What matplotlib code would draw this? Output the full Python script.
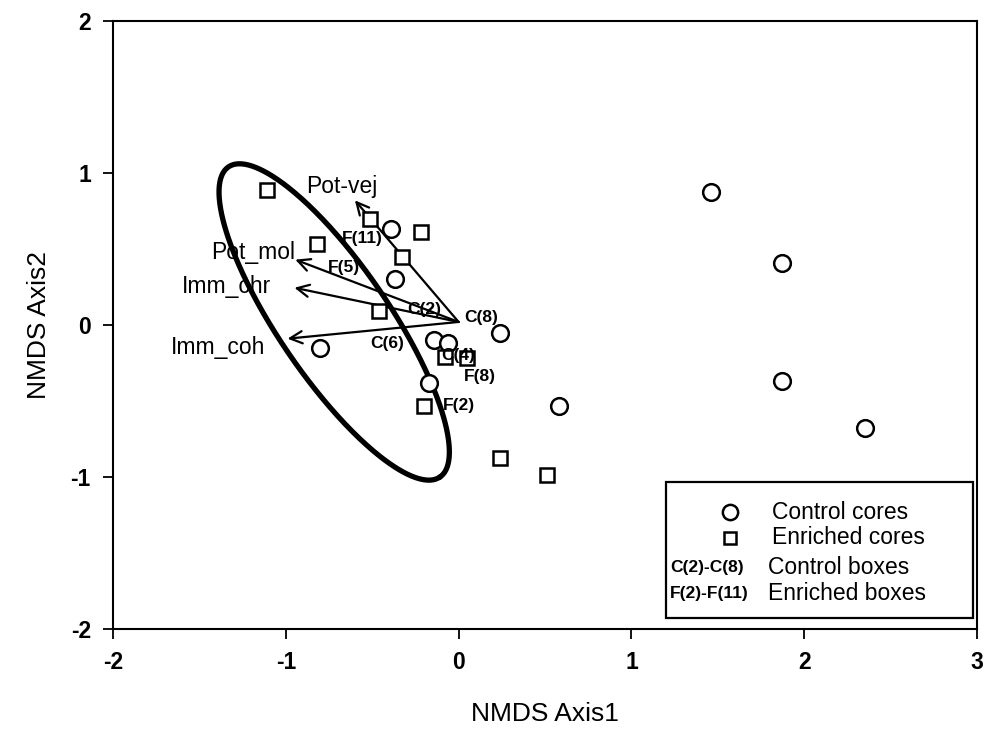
import numpy as np
import matplotlib
matplotlib.use('Agg')
from matplotlib import pyplot as plt

plt.rcParams['font.family'] = ['Liberation Sans', 'DejaVu Sans']
plt.rcParams['axes.unicode_minus'] = False

# NMDS site scores
control_x = [1.46, 1.87, 1.87, 2.35, 0.58, 0.24, -0.39, -0.37, -0.80, -0.14, -0.06, -0.17]
control_y = [0.875, 0.41, -0.37, -0.68, -0.53, -0.05, 0.63, 0.30, -0.15, -0.10, -0.12, -0.38]
enriched_x = [-1.11, -0.51, -0.22, -0.82, -0.33, -0.46, -0.08, 0.05, -0.20, 0.24, 0.51]
enriched_y = [0.89, 0.70, 0.61, 0.53, 0.45, 0.09, -0.21, -0.22, -0.53, -0.875, -0.99]

# box labels
box_names = ['F(11)', 'F(5)', 'C(2)', 'C(8)', 'C(6)', 'C(4)', 'F(8)', 'F(2)']
box_x = [-0.674, -0.755, -0.30, 0.03, -0.51, -0.10, 0.03, -0.09]
box_y = [0.566, 0.375, 0.10, 0.05, -0.12, -0.20, -0.34, -0.53]

# species vectors (joint plot), all from the same origin
vec_names = ['Pot-vej', 'Pot_mol', 'Imm_chr', 'Imm_coh']
vec_x = [-0.60, -0.945, -0.95, -0.99]
vec_y = [0.82, 0.43, 0.245, -0.09]
vec_origin = (0.0, 0.02)
vec_label_x = [-0.885, -1.43, -1.60, -1.665]
vec_label_y = [0.91, 0.48, 0.25, -0.145]

# confidence ellipse: centre + two semi-axis vectors (data units)
ell_centre = (-0.72, 0.02)
ell_major = (0.612, -1.020)
ell_minor = (0.264, 0.206)

fig = plt.figure(figsize=(9.86, 7.31), dpi=100)
ax = fig.add_axes([0.1146, 0.1395, 0.8763, 0.8318])

t = np.linspace(0, 2 * np.pi, 400)
ex = ell_centre[0] + ell_major[0] * np.cos(t) + ell_minor[0] * np.sin(t)
ey = ell_centre[1] + ell_major[1] * np.cos(t) + ell_minor[1] * np.sin(t)
ax.plot(ex, ey, color='black', lw=3.8, solid_capstyle='round', zorder=2)

ax.plot(control_x, control_y, 'o', ms=12, mfc='white', mec='black', mew=1.8, zorder=4)
ax.plot(enriched_x, enriched_y, 's', ms=10, mfc='white', mec='black', mew=1.8, zorder=4)

for name, x, y, lx, ly in zip(vec_names, vec_x, vec_y, vec_label_x, vec_label_y):
    ax.annotate('', xy=(x, y), xytext=vec_origin,
                arrowprops=dict(arrowstyle='->', color='black', lw=1.6,
                                mutation_scale=22, shrinkA=0, shrinkB=0), zorder=3)
    ax.text(lx, ly, name, fontsize=16.5, ha='left', va='center', zorder=5)

for name, x, y in zip(box_names, box_x, box_y):
    ax.text(x, y, name, fontsize=12.5, fontweight='bold', ha='left', va='center', zorder=5)

ax.set_xlim(-2, 3)
ax.set_ylim(-2, 2)
ax.set_xticks([-2, -1, 0, 1, 2, 3])
ax.set_yticks([-2, -1, 0, 1, 2])
ax.tick_params(direction='out', length=7, width=1.3, labelsize=16.5, pad=9)
for lab in ax.get_xticklabels() + ax.get_yticklabels():
    lab.set_fontweight('bold')
for s in ax.spines.values():
    s.set_linewidth(1.5)

ax.set_xlabel('NMDS Axis1', fontsize=19, labelpad=20)
ax.set_ylabel('NMDS Axis2', fontsize=19, labelpad=14)

# legend box drawn by hand
ax.add_patch(plt.Rectangle((0.640, 0.018), 0.355, 0.224, transform=ax.transAxes,
                           fill=False, lw=1.6, ec='black', zorder=6))
ax.plot([0.714], [0.192], 'o', ms=11, mfc='white', mec='black', mew=1.8,
        transform=ax.transAxes, zorder=7)
ax.plot([0.714], [0.150], 's', ms=9, mfc='white', mec='black', mew=1.8,
        transform=ax.transAxes, zorder=7)
ax.text(0.763, 0.192, 'Control cores', fontsize=16.5, va='center', transform=ax.transAxes)
ax.text(0.763, 0.150, 'Enriched cores', fontsize=16.5, va='center', transform=ax.transAxes)
ax.text(0.645, 0.102, 'C(2)-C(8)', fontsize=12.5, fontweight='bold', va='center', transform=ax.transAxes)
ax.text(0.645, 0.058, 'F(2)-F(11)', fontsize=12.5, fontweight='bold', va='center', transform=ax.transAxes)
ax.text(0.758, 0.102, 'Control boxes', fontsize=16.5, va='center', transform=ax.transAxes)
ax.text(0.758, 0.058, 'Enriched boxes', fontsize=16.5, va='center', transform=ax.transAxes)

fig.savefig('out.png', dpi=100)
